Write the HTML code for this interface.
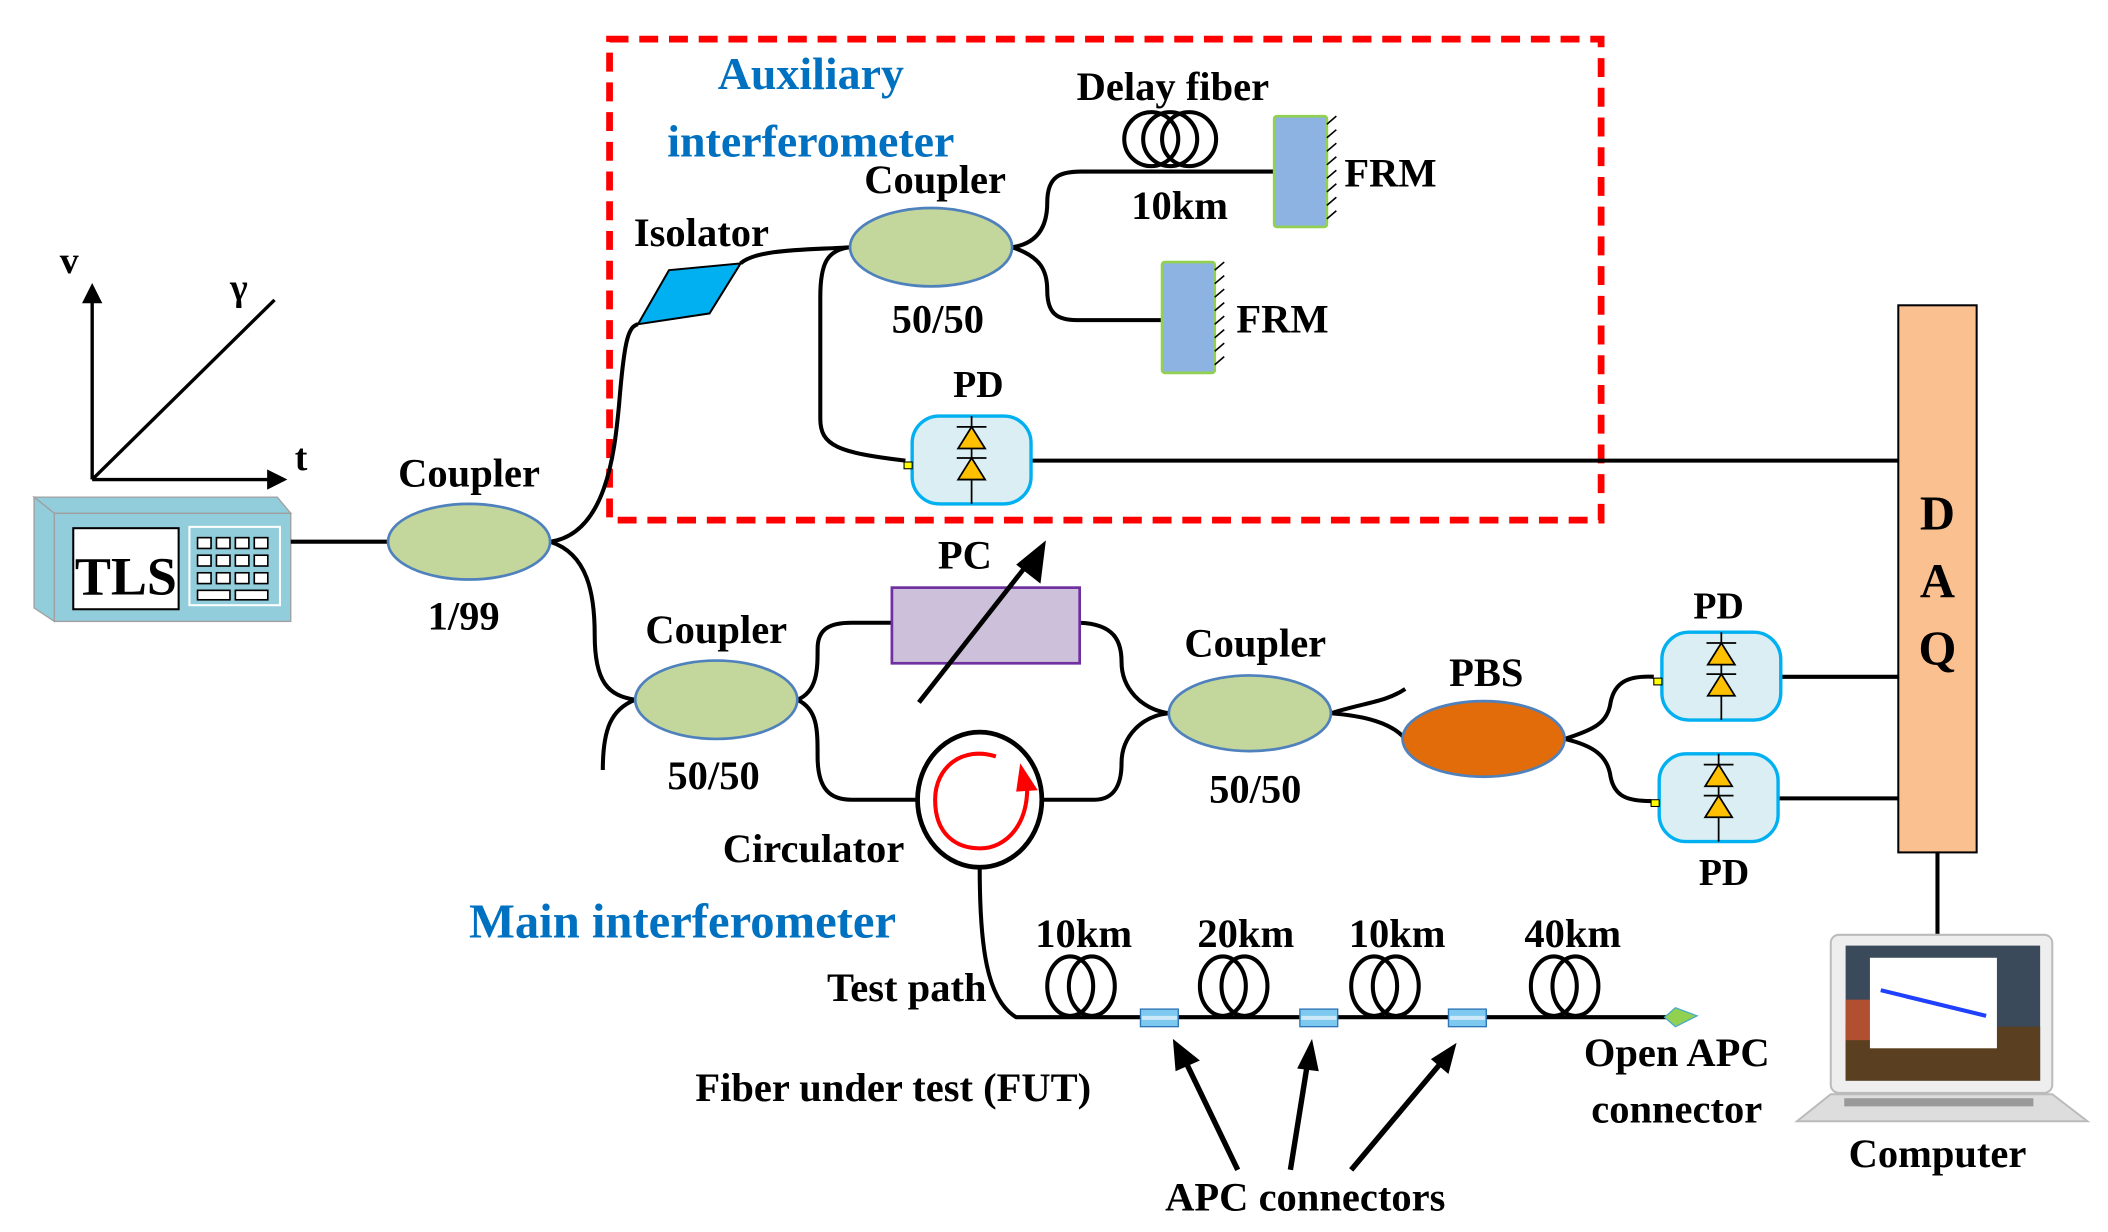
<!DOCTYPE html>
<html><head><meta charset="utf-8"><style>
html,body{margin:0;padding:0;background:#fff;}
svg{display:block;}
svg text{font-family:"Liberation Serif","Times New Roman",Times,"DejaVu Serif",serif;font-weight:bold;fill:#000;}
</style></head><body>
<svg width="2108" height="1232" viewBox="0 0 1560 912" xmlns="http://www.w3.org/2000/svg" font-family="Liberation Serif, Times New Roman, DejaVu Serif, serif">
<defs>
<marker id="ah" markerWidth="6" markerHeight="6" refX="5" refY="3" orient="auto" markerUnits="strokeWidth"><path d="M0,0 L6,3 L0,6 Z" fill="#000"/></marker>
<g id="pd">
<rect x="0" y="0" width="88" height="65" rx="20" fill="#DAEEF3" stroke="#00B0F0" stroke-width="2.5"/>
<line x1="44" y1="0" x2="44" y2="65" stroke="#000" stroke-width="1.3"/>
<line x1="33" y1="8" x2="55" y2="8" stroke="#000" stroke-width="1.3"/>
<path d="M44,8 L34,24 L54,24 Z" fill="#FFC000" stroke="#000" stroke-width="1.3"/>
<line x1="33" y1="31" x2="55" y2="31" stroke="#000" stroke-width="1.3"/>
<path d="M44,31 L34,47 L54,47 Z" fill="#FFC000" stroke="#000" stroke-width="1.3"/>
<rect x="-6" y="34" width="6" height="5" fill="#FFFF00" stroke="#000" stroke-width="0.8"/>
</g>
<g id="coil2" fill="none" stroke="#000" stroke-width="3">
<ellipse cx="-8" cy="0" rx="17" ry="22"/><ellipse cx="8" cy="0" rx="17" ry="22"/>
</g>
</defs>

<rect x="451" y="29" width="734" height="356" fill="none" stroke="#FF0000" stroke-width="5" stroke-dasharray="14,8"/>

<line x1="68" y1="355" x2="68" y2="212" stroke="#000" stroke-width="2.5" marker-end="url(#ah)"/>
<line x1="68" y1="355" x2="210" y2="355" stroke="#000" stroke-width="2.5" marker-end="url(#ah)"/>
<line x1="68" y1="355" x2="203" y2="222" stroke="#000" stroke-width="2.5"/>
<text x="44" y="202" font-size="28">v</text>
<text x="170" y="222" font-size="28">γ</text>
<text x="218" y="348" font-size="28">t</text>

<path d="M25,368 L205,368 L215,380 L40,380 Z" fill="#92CDDC" stroke="#a0a0a0"/>
<path d="M25,368 L40,380 L40,460 L25,450 Z" fill="#92CDDC" stroke="#a0a0a0"/>
<rect x="40" y="380" width="175" height="80" fill="#92CDDC" stroke="#a0a0a0"/>
<rect x="54" y="391" width="78" height="60" fill="#fff" stroke="#000" stroke-width="1.5"/>
<text x="93" y="440" font-size="40" text-anchor="middle">TLS</text>
<rect x="140" y="390" width="67" height="58" fill="none" stroke="#fff" stroke-width="1.5"/>
<g fill="#fff" stroke="#000" stroke-width="1.2">
<rect x="146" y="398" width="10" height="8"/><rect x="160" y="398" width="10" height="8"/><rect x="174" y="398" width="10" height="8"/><rect x="188" y="398" width="10" height="8"/>
<rect x="146" y="411" width="10" height="8"/><rect x="160" y="411" width="10" height="8"/><rect x="174" y="411" width="10" height="8"/><rect x="188" y="411" width="10" height="8"/>
<rect x="146" y="424" width="10" height="8"/><rect x="160" y="424" width="10" height="8"/><rect x="174" y="424" width="10" height="8"/><rect x="188" y="424" width="10" height="8"/>
<rect x="146" y="437" width="24" height="7"/><rect x="174" y="437" width="24" height="7"/>
</g>

<g fill="none" stroke="#000" stroke-width="3">
<line x1="215" y1="401" x2="287" y2="401"/>
<path d="M407,401 C450,395 455,330 458,300 C462,250 465,242 472,240"/>
<path d="M407,401 C435,410 440,440 440,470 C440,505 450,515 470,518"/>
<path d="M470,518 C452,525 446,540 446,570"/>
<path d="M548,195 C560,184 600,185 629,183"/>
<path d="M629,183 C612,185 607,195 607,220 L607,310 C607,330 620,335 670,341"/>
<path d="M749,183 C770,180 775,165 775,150 C775,130 785,127 800,127 L943,127"/>
<path d="M749,183 C770,190 775,200 775,215 C775,235 785,237 800,237 L860,237"/>
<line x1="762" y1="341" x2="1405" y2="341"/>
<path d="M590,518 C605,512 605,495 605,480 C605,465 615,461 630,461 L660,461"/>
<path d="M590,518 C605,525 605,540 605,560 C605,585 615,592 630,592 L679,592"/>
<path d="M799,461 C825,462 830,475 830,490 C830,510 845,525 865,528"/>
<path d="M771,592 L810,592 C825,592 830,580 830,565 C830,545 845,530 865,528"/>
<path d="M985,528 C1010,520 1025,520 1040,510"/>
<path d="M985,528 C1010,530 1030,535 1040,547"/>
<path d="M1158,547 C1180,540 1190,535 1192,520 C1195,505 1205,500 1224,501"/>
<path d="M1158,547 C1180,552 1190,560 1192,575 C1195,590 1205,593 1222,593"/>
<line x1="1318" y1="501" x2="1405" y2="501"/>
<line x1="1316" y1="591" x2="1405" y2="591"/>
<line x1="1434" y1="631" x2="1434" y2="692"/>
<path d="M725,642 C725,700 730,740 752,753 L1235,753"/>
</g>

<path d="M472,240 L495,200 L548,195 L525,232 Z" fill="#00B0F0" stroke="#000" stroke-width="1.5"/>

<ellipse cx="347" cy="401" rx="60" ry="28" fill="#C3D69B" stroke="#4F81BD" stroke-width="2"/>
<ellipse cx="689" cy="183" rx="60" ry="29" fill="#C3D69B" stroke="#4F81BD" stroke-width="2"/>
<ellipse cx="530" cy="518" rx="60" ry="29" fill="#C3D69B" stroke="#4F81BD" stroke-width="2"/>
<ellipse cx="925" cy="528" rx="60" ry="28" fill="#C3D69B" stroke="#4F81BD" stroke-width="2"/>
<ellipse cx="1098" cy="547" rx="60" ry="28" fill="#E36C0A" stroke="#4F81BD" stroke-width="2"/>

<g fill="none" stroke="#000" stroke-width="3">
<circle cx="852" cy="103" r="20"/><circle cx="866" cy="103" r="20"/><circle cx="880" cy="103" r="20"/>
</g>
<rect x="943" y="86" width="39" height="82" rx="2" fill="#8DB3E2" stroke="#92D050" stroke-width="2"/>
<g stroke="#000" stroke-width="1.2">
<line x1="982" y1="92" x2="989" y2="86"/><line x1="982" y1="102" x2="989" y2="96"/><line x1="982" y1="112" x2="989" y2="106"/><line x1="982" y1="122" x2="989" y2="116"/><line x1="982" y1="132" x2="989" y2="126"/><line x1="982" y1="142" x2="989" y2="136"/><line x1="982" y1="152" x2="989" y2="146"/><line x1="982" y1="162" x2="989" y2="156"/>
</g>
<rect x="860" y="194" width="39" height="82" rx="2" fill="#8DB3E2" stroke="#92D050" stroke-width="2"/>
<g stroke="#000" stroke-width="1.2">
<line x1="899" y1="200" x2="906" y2="194"/><line x1="899" y1="210" x2="906" y2="204"/><line x1="899" y1="220" x2="906" y2="214"/><line x1="899" y1="230" x2="906" y2="224"/><line x1="899" y1="240" x2="906" y2="234"/><line x1="899" y1="250" x2="906" y2="244"/><line x1="899" y1="260" x2="906" y2="254"/><line x1="899" y1="270" x2="906" y2="264"/>
</g>

<use href="#pd" x="675" y="308"/>
<use href="#pd" x="1230" y="468"/>
<use href="#pd" x="1228" y="558"/>

<rect x="1405" y="226" width="58" height="405" fill="#FAC090" stroke="#000" stroke-width="1.5"/>
<text x="1434" y="392" font-size="36" text-anchor="middle">D</text>
<text x="1434" y="442" font-size="36" text-anchor="middle">A</text>
<text x="1434" y="492" font-size="36" text-anchor="middle">Q</text>

<rect x="660" y="435" width="139" height="56" fill="#CCC0DA" stroke="#7030A0" stroke-width="2"/>
<line x1="680" y1="520" x2="764" y2="413" stroke="#000" stroke-width="3.5"/>
<path d="M774,400 L770,432 L752,418 Z" fill="#000"/>

<ellipse cx="725" cy="592" rx="46" ry="50" fill="#fff" stroke="#000" stroke-width="3.5"/>
<path d="M737,560 C712,552 692,568 692,592 C692,618 708,628 725,628 C745,628 762,610 760,578" fill="none" stroke="#FF0000" stroke-width="3"/>
<path d="M755,565 L768,585 L752,586 Z" fill="#FF0000"/>

<use href="#coil2" x="800" y="730"/>
<use href="#coil2" x="913" y="730"/>
<use href="#coil2" x="1025" y="730"/>
<use href="#coil2" x="1158" y="730"/>
<g fill="#7DC9F0" stroke="#2E75B6" stroke-width="1">
<rect x="844" y="747" width="28" height="13"/><rect x="962" y="747" width="28" height="13"/><rect x="1072" y="747" width="28" height="13"/>
</g>
<g fill="#fff" opacity="0.6"><rect x="845" y="752" width="26" height="3"/><rect x="963" y="752" width="26" height="3"/><rect x="1073" y="752" width="26" height="3"/></g>
<path d="M1232,753 L1240,746 L1256,752 L1240,760 Z" fill="#92D050" stroke="#4BACC6" stroke-width="1"/>
<g stroke="#000" stroke-width="4">
<line x1="916" y1="866" x2="877" y2="785"/><line x1="955" y1="866" x2="968" y2="785"/><line x1="1000" y1="866" x2="1068" y2="785"/>
</g>
<path d="M868,769 L888,785 L870,793 Z" fill="#000"/>
<path d="M971,769 L976,793 L960,791 Z" fill="#000"/>
<path d="M1078,772 L1072,795 L1059,784 Z" fill="#000"/>

<rect x="1355" y="692" width="164" height="117" rx="6" fill="#eee" stroke="#bbb" stroke-width="1.5"/>
<rect x="1366" y="700" width="144" height="100" fill="#3a4a5a"/>
<rect x="1366" y="760" width="144" height="40" fill="#5a4020"/>
<rect x="1366" y="740" width="40" height="30" fill="#b05030"/>
<rect x="1384" y="709" width="94" height="67" fill="#fff"/>
<line x1="1392" y1="733" x2="1470" y2="752" stroke="#2040ff" stroke-width="3"/>
<path d="M1355,810 L1519,810 L1545,830 L1330,830 Z" fill="#ddd" stroke="#bbb" stroke-width="1.5"/>
<rect x="1365" y="813" width="140" height="6" fill="#999"/>

<text x="600" y="66" font-size="34" style="fill:#0070C0" text-anchor="middle">Auxiliary</text>
<text x="600" y="116" font-size="34" style="fill:#0070C0" text-anchor="middle">interferometer</text>
<text x="868" y="74" font-size="30" text-anchor="middle">Delay fiber</text>
<text x="873" y="162" font-size="30" text-anchor="middle">10km</text>
<text x="995" y="138" font-size="30">FRM</text>
<text x="915" y="246" font-size="30">FRM</text>
<text x="692" y="143" font-size="30" text-anchor="middle">Coupler</text>
<text x="694" y="246" font-size="30" text-anchor="middle">50/50</text>
<text x="519" y="182" font-size="30" text-anchor="middle">Isolator</text>
<text x="724" y="294" font-size="28" text-anchor="middle">PD</text>
<text x="347" y="360" font-size="30" text-anchor="middle">Coupler</text>
<text x="343" y="466" font-size="30" text-anchor="middle">1/99</text>
<text x="530" y="476" font-size="30" text-anchor="middle">Coupler</text>
<text x="528" y="584" font-size="30" text-anchor="middle">50/50</text>
<text x="714" y="421" font-size="30" text-anchor="middle">PC</text>
<text x="929" y="486" font-size="30" text-anchor="middle">Coupler</text>
<text x="929" y="594" font-size="30" text-anchor="middle">50/50</text>
<text x="1100" y="508" font-size="30" text-anchor="middle">PBS</text>
<text x="1272" y="458" font-size="28" text-anchor="middle">PD</text>
<text x="1276" y="655" font-size="28" text-anchor="middle">PD</text>
<text x="602" y="638" font-size="30" text-anchor="middle">Circulator</text>
<text x="505" y="694" font-size="36" style="fill:#0070C0" text-anchor="middle">Main interferometer</text>
<text x="671" y="741" font-size="30" text-anchor="middle">Test path</text>
<text x="661" y="815" font-size="30" text-anchor="middle">Fiber under test (FUT)</text>
<text x="802" y="701" font-size="30" text-anchor="middle">10km</text>
<text x="922" y="701" font-size="30" text-anchor="middle">20km</text>
<text x="1034" y="701" font-size="30" text-anchor="middle">10km</text>
<text x="1164" y="701" font-size="30" text-anchor="middle">40km</text>
<text x="1241" y="789" font-size="30" text-anchor="middle">Open APC</text>
<text x="1241" y="831" font-size="30" text-anchor="middle">connector</text>
<text x="966" y="896" font-size="30" text-anchor="middle">APC connectors</text>
<text x="1434" y="864" font-size="30" text-anchor="middle">Computer</text>
</svg>
</body></html>
